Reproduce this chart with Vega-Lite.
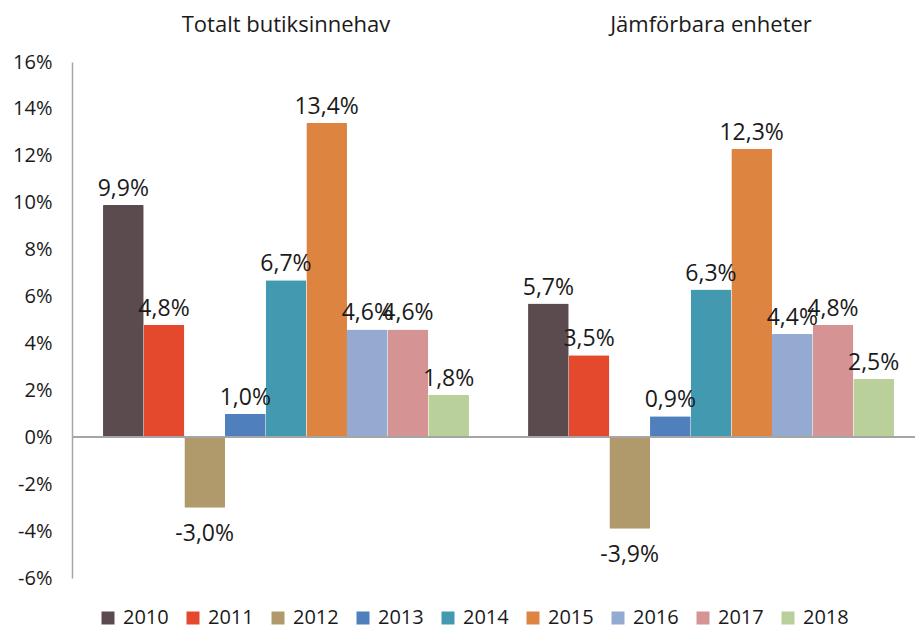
{
  "$schema": "https://vega.github.io/schema/vega-lite/v6.json",
  "autosize": {"type": "none"},
  "width": 853,
  "height": 516,
  "padding": {"left": 72, "top": 62, "right": 0, "bottom": 55},
  "config": {
    "view": {"stroke": null},
    "font": "Open Sans",
    "locale": {"number": {"decimal": ",", "thousands": " ", "grouping": [3], "currency": ["", " kr"], "minus": "-"}}
  },
  "data": {"values": [
    {"grupp": "Totalt butiksinnehav", "ar": "2010", "v": 0.099},
    {"grupp": "Totalt butiksinnehav", "ar": "2011", "v": 0.048},
    {"grupp": "Totalt butiksinnehav", "ar": "2012", "v": -0.030},
    {"grupp": "Totalt butiksinnehav", "ar": "2013", "v": 0.010},
    {"grupp": "Totalt butiksinnehav", "ar": "2014", "v": 0.067},
    {"grupp": "Totalt butiksinnehav", "ar": "2015", "v": 0.134},
    {"grupp": "Totalt butiksinnehav", "ar": "2016", "v": 0.046},
    {"grupp": "Totalt butiksinnehav", "ar": "2017", "v": 0.046},
    {"grupp": "Totalt butiksinnehav", "ar": "2018", "v": 0.018},
    {"grupp": "Jämförbara enheter", "ar": "2010", "v": 0.057},
    {"grupp": "Jämförbara enheter", "ar": "2011", "v": 0.035},
    {"grupp": "Jämförbara enheter", "ar": "2012", "v": -0.039},
    {"grupp": "Jämförbara enheter", "ar": "2013", "v": 0.009},
    {"grupp": "Jämförbara enheter", "ar": "2014", "v": 0.063},
    {"grupp": "Jämförbara enheter", "ar": "2015", "v": 0.123},
    {"grupp": "Jämförbara enheter", "ar": "2016", "v": 0.044},
    {"grupp": "Jämförbara enheter", "ar": "2017", "v": 0.048},
    {"grupp": "Jämförbara enheter", "ar": "2018", "v": 0.025}
  ]},
  "encoding": {
    "x": {
      "field": "grupp", "type": "nominal", "sort": null,
      "scale": {"paddingInner": 0.139, "paddingOuter": 0.073},
      "axis": {"orient": "top", "title": null, "domain": false, "ticks": false, "labelAngle": 0, "labelLimit": 400,
               "labelFontSize": 22, "labelColor": "#1a1a1a", "labelPadding": 26}
    },
    "xOffset": {"field": "ar", "type": "nominal", "sort": null},
    "y": {
      "field": "v", "type": "quantitative",
      "scale": {"domain": [-0.06, 0.16], "nice": false},
      "axis": {"title": null, "format": ".0%", "values": [-0.06, -0.04, -0.02, 0, 0.02, 0.04, 0.06, 0.08, 0.1, 0.12, 0.14, 0.16],
               "grid": false, "ticks": false, "domainColor": "#A6A6A6", "domainWidth": 1.5,
               "labelFontSize": 20, "labelColor": "#1a1a1a", "labelPadding": 20}
    }
  },
  "layer": [
    {
      "mark": {"type": "bar", "cornerRadius": 1},
      "encoding": {
        "color": {
          "field": "ar", "type": "nominal",
          "scale": {"domain": ["2010","2011","2012","2013","2014","2015","2016","2017","2018"],
                    "range": ["#5B4B4F","#E5492D","#B09A6C","#4F7FBD","#4399B0","#DD8440","#95AAD1","#D69393","#B9D09A"]},
          "legend": {"title": null, "orient": "none", "direction": "horizontal", "legendX": 26, "legendY": 546,
                     "symbolType": "square", "symbolSize": 169, "symbolStrokeWidth": 0,
                     "labelFontSize": 20, "labelColor": "#1a1a1a", "columnPadding": 14, "labelOffset": 5}
        }
      }
    },
    {
      "mark": {"type": "rule", "color": "#A6A6A6", "strokeWidth": 1.5},
      "encoding": {"y": {"datum": 0}, "x": {"value": 0}, "x2": {"value": 843}, "xOffset": null}
    },
    {
      "transform": [{"filter": "datum.v >= 0"}],
      "mark": {"type": "text", "baseline": "bottom", "dy": -4, "fontSize": 23, "color": "#1a1a1a"},
      "encoding": {"text": {"field": "v", "format": ".1%"}}
    },
    {
      "transform": [{"filter": "datum.v < 0"}],
      "mark": {"type": "text", "baseline": "top", "dy": 15, "fontSize": 23, "color": "#1a1a1a"},
      "encoding": {"text": {"field": "v", "format": ".1%"}}
    }
  ]
}
